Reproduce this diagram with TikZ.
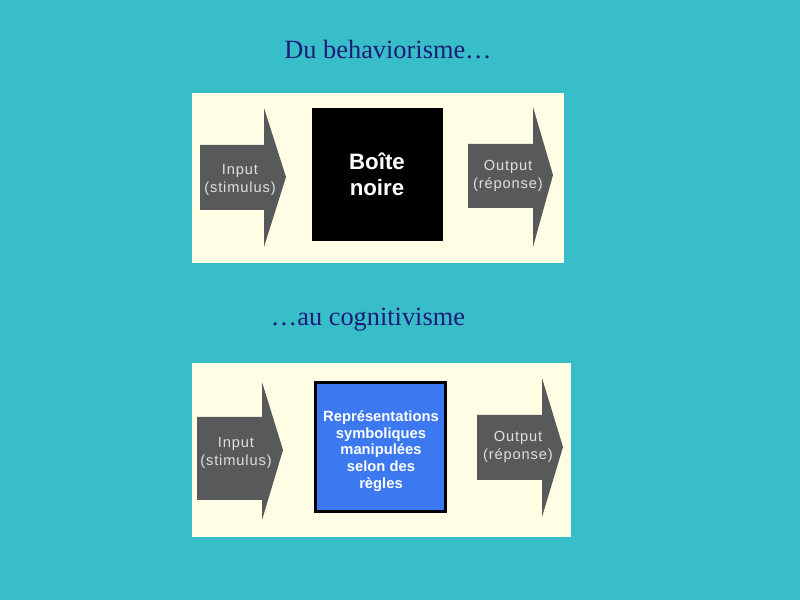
\documentclass[tikz,border=0pt]{standalone}
\usepackage{fontspec}
\setmainfont{Liberation Serif}
\setsansfont{Liberation Sans}
\newfontfamily\spaced[LetterSpace=6]{Liberation Sans}
\usepackage{xcolor}
\usetikzlibrary{positioning}

\definecolor{fond}{HTML}{38BEC8}
\definecolor{creme}{HTML}{FFFDE3}
\definecolor{gris}{HTML}{58595B}
\definecolor{bleu}{HTML}{3C78F0}
\definecolor{marine}{HTML}{1C1C7A}

\tikzset{
  titre/.style={font=\fontsize{22.5}{26}\selectfont, text=marine},
  panneau/.style={fill=creme},
  fleche/.style={fill=gris},
  etiq/.style={font=\spaced\fontsize{12.5}{14.8}\selectfont, text=black!12, align=center, inner sep=0pt},
  boite/.style={font=\sffamily\bfseries, text=white, align=center, inner sep=0pt}
}

\begin{document}
\begin{tikzpicture}[x=0.03cm, y=-0.03cm]
    \fill[fond] (0,0) rectangle (800,600);

    % Titres
    \node[titre] (t1) at (388,50) {Du behaviorisme\ldots};
    \node[titre] (t2) at (368,320) {\ldots au cognitivisme};

    % Premier panneau
    \fill[panneau] (192,93) rectangle (564,263);
    \fill[fleche] (200,145) -- (264,145) -- (264,108) -- (286,177)
        -- (264,247) -- (264,210) -- (200,210) -- cycle;
    \fill[fleche] (468,144) -- (533,144) -- (533,107) -- (553,175)
        -- (533,247) -- (533,208) -- (468,208) -- cycle;
    \fill[black] (312,108) rectangle (443,241);
    \node[etiq] (in1) at (240,180) {Input\\(stimulus)};
    \node[etiq] (out1) at (508,176) {Output\\(réponse)};
    \node[boite, font=\sffamily\bfseries\fontsize{19}{22}\selectfont] (bn) at (377,174) {Boîte\\noire};

    % Second panneau
    \fill[panneau] (192,363) rectangle (571,537);
    \fill[fleche] (197,417) -- (262,417) -- (262,382) -- (283,450)
        -- (262,520) -- (262,500) -- (197,500) -- cycle;
    \fill[fleche] (477,415) -- (542,415) -- (542,378) -- (563,447)
        -- (542,517) -- (542,480) -- (477,480) -- cycle;
    \filldraw[fill=bleu, draw=black, line width=3pt] (315.5,382.5) rectangle (445.5,511.5);
    \node[etiq] (in2) at (236,453) {Input\\(stimulus)};
    \node[etiq] (out2) at (518,447) {Output\\(réponse)};
    \node[boite, font=\sffamily\bfseries\fontsize{12.6}{14.2}\selectfont] (rep) at (381,451)
        {Représentations\\symboliques\\manipulées\\selon des\\règles};
\end{tikzpicture}
\end{document}
